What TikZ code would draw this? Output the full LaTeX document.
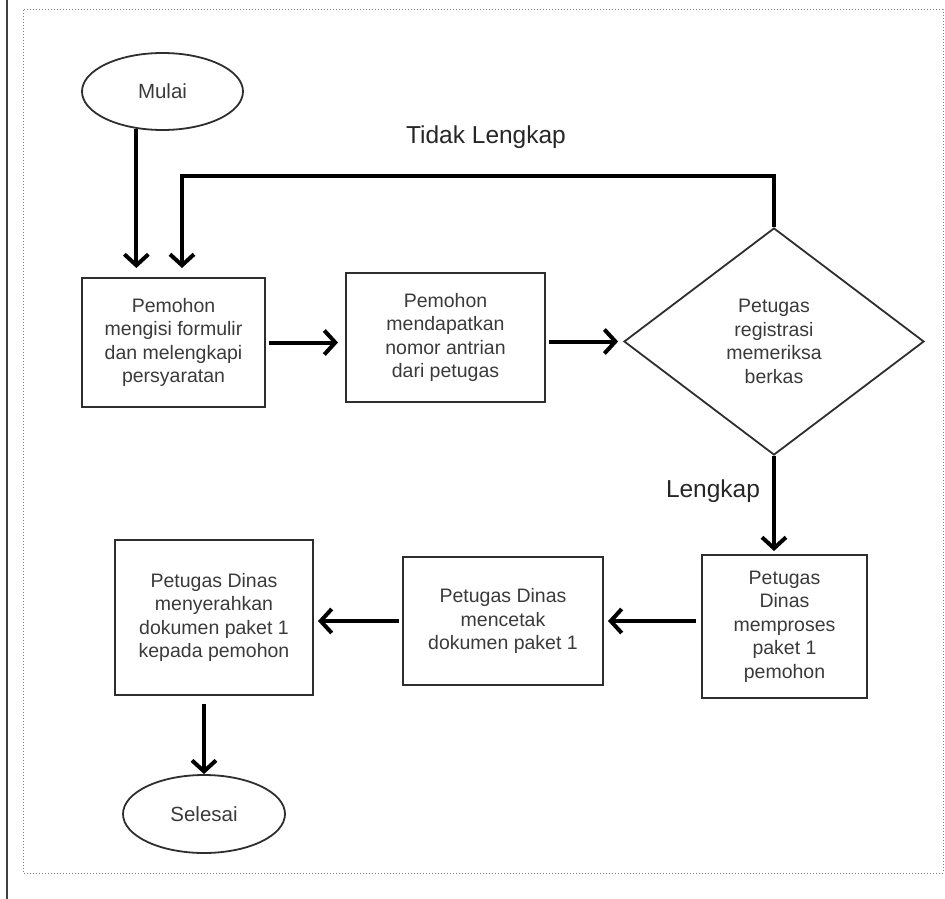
\documentclass[tikz,border=0pt]{standalone}
\usepackage{fontspec}
\setmainfont{Liberation Sans}
\usetikzlibrary{shapes.geometric,arrows.meta}
\definecolor{txt}{HTML}{3A3A3A}
\definecolor{edge}{HTML}{2E2E2E}
\begin{document}
\begin{tikzpicture}[x=1pt,y=-1pt,
  box/.style={draw=edge, line width=2pt, rectangle, inner sep=0pt, align=center,
    font=\fontsize{19.5}{23.5}\selectfont, text=txt},
  term/.style={draw=edge, line width=1.8pt, ellipse, inner sep=0pt, text=txt,
    font=\fontsize{20.5}{24}\selectfont},
  dec/.style={draw=edge, line width=1.8pt, diamond, inner sep=0pt, align=center, text=txt,
    font=\fontsize{19.5}{23.5}\selectfont},
  arr/.style={line width=4pt, -{Straight Barb[length=11pt,width=24pt]}},
  lab/.style={font=\fontsize{24.5}{28}\selectfont, text=black!85}]
\useasboundingbox (0,0) rectangle (945,899);
\draw[black!75, line width=1.3pt] (7,0) -- (7,899);
\draw[gray, dotted, line width=1pt] (23,10) rectangle (943,873);

\node[term, minimum width=161pt, minimum height=77pt] (mulai) at (162.5,91.5) {Mulai};
\node[box, minimum width=183pt, minimum height=129pt] (b1) at (173.5,342.5) {Pemohon\\mengisi formulir\\dan melengkapi\\persyaratan};
\node[box, minimum width=199pt, minimum height=129pt] (b2) at (445.5,337.5) {Pemohon\\mendapatkan\\nomor antrian\\dari petugas};
\node[dec, minimum width=300pt, minimum height=227pt] (dia) at (774,341.5) {Petugas\\registrasi\\memeriksa\\berkas};
\node[box, minimum width=165pt, minimum height=143pt] (b3) at (784.5,626.5) {Petugas\\Dinas\\memproses\\paket 1\\pemohon};
\node[box, minimum width=200pt, minimum height=128pt] (b4) at (503,621) {Petugas Dinas\\mencetak\\dokumen paket 1};
\node[box, minimum width=198pt, minimum height=155pt] (b5) at (214,617.5) {Petugas Dinas\\menyerahkan\\dokumen paket 1\\kepada pemohon};
\node[term, minimum width=162pt, minimum height=78pt] (sel) at (204,814) {Selesai};
\node[lab] (tl) at (486,137) {Tidak Lengkap};
\node[lab] (lk) at (713,491) {Lengkap};

\coordinate (fb) at (182,176);
\draw[arr, shorten >=9pt] (mulai.235) -- (mulai.235 |- b1.north);
\draw[arr, shorten >=9pt] (dia.north) |- (fb) -- (fb |- b1.north);
\draw[arr, shorten <=3pt, shorten >=7pt] (b1.east) -- (b1.east -| b2.west);
\draw[arr, shorten <=3pt, shorten >=5pt] (b2.east |- dia.west) -- (dia.west);
\draw[arr, shorten >=3pt] (dia.south) -- (dia.south |- b3.north);
\draw[arr, shorten <=5pt, shorten >=4pt] (b4.east -| b3.west) -- (b4.east);
\draw[arr, shorten <=3pt, shorten >=4pt] (b4.west) -- (b4.west -| b5.east);
\draw[arr, shorten <=8pt] (sel.north |- b5.south) -- (sel.north);
\end{tikzpicture}
\end{document}
